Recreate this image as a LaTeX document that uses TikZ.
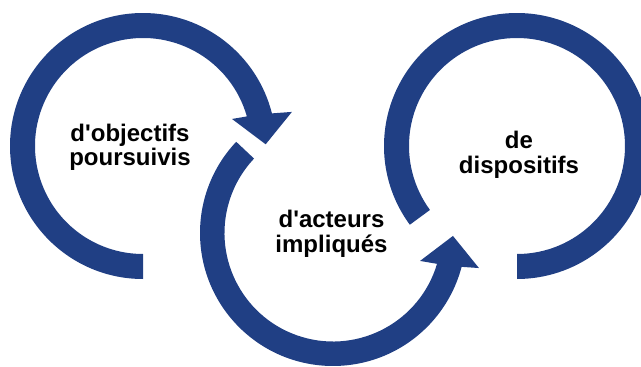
\documentclass[tikz,border=0pt]{standalone}
\usepackage{fontspec}
\setmainfont{Liberation Sans}
\usetikzlibrary{calc}
\definecolor{cycleblue}{RGB}{32,63,132}
\tikzset{
  band/.style={fill=cycleblue, draw=none},
  caption/.style={font=\bfseries\fontsize{24}{24.5}\selectfont, align=center, text=black, inner sep=0pt}
}
\begin{document}
\begin{tikzpicture}[x=1pt, y=1pt]
  \useasboundingbox (0,0) rectangle (641,-367);
  % ring centres
  \coordinate (c1) at (143,-146);
  \coordinate (c2) at (333,-233);
  \coordinate (c3) at (517,-146);

  % first ring: from the bottom, clockwise, ending in an arrowhead on the right
  \fill[band] ($(c1)+(270:133)$) arc[start angle=270, end angle=14.2, radius=133]
    -- ($(c1)+(12.9:152.8)$) -- ($(c1)+(0.8:122.7)$) -- ($(c1)+(16.9:93)$)
    -- ($(c1)+(15.9:108)$) arc[start angle=15.9, end angle=270, radius=108] -- cycle;

  % second ring: from upper left, counter-clockwise, arrowhead pointing up-right
  \fill[band] ($(c2)+(136.7:133)$) arc[start angle=136.7, end angle=345.25, radius=133]
    -- ($(c2)+(346.5:150.1)$) -- ($(c2)+(358.6:120)$) -- ($(c2)+(342.2:91.4)$)
    -- ($(c2)+(343.5:108.5)$) arc[start angle=343.5, end angle=136.7, radius=108.5] -- cycle;

  % third ring: from lower left, clockwise, ending at the bottom
  \fill[band] ($(c3)+(216.3:133)$) arc[start angle=216.3, end angle=-90, radius=133]
    -- ($(c3)+(-90:108)$) arc[start angle=-90, end angle=216.3, radius=108] -- cycle;

  % labels
  \node[caption] (t1) at (130,-147.5) {d\textquotesingle objectifs\\poursuivis};
  \node[caption] (t2) at (331.5,-234) {d\textquotesingle acteurs\\impliqués};
  \node[caption] (t3) at (519,-155) {de\\dispositifs};
\end{tikzpicture}
\end{document}
